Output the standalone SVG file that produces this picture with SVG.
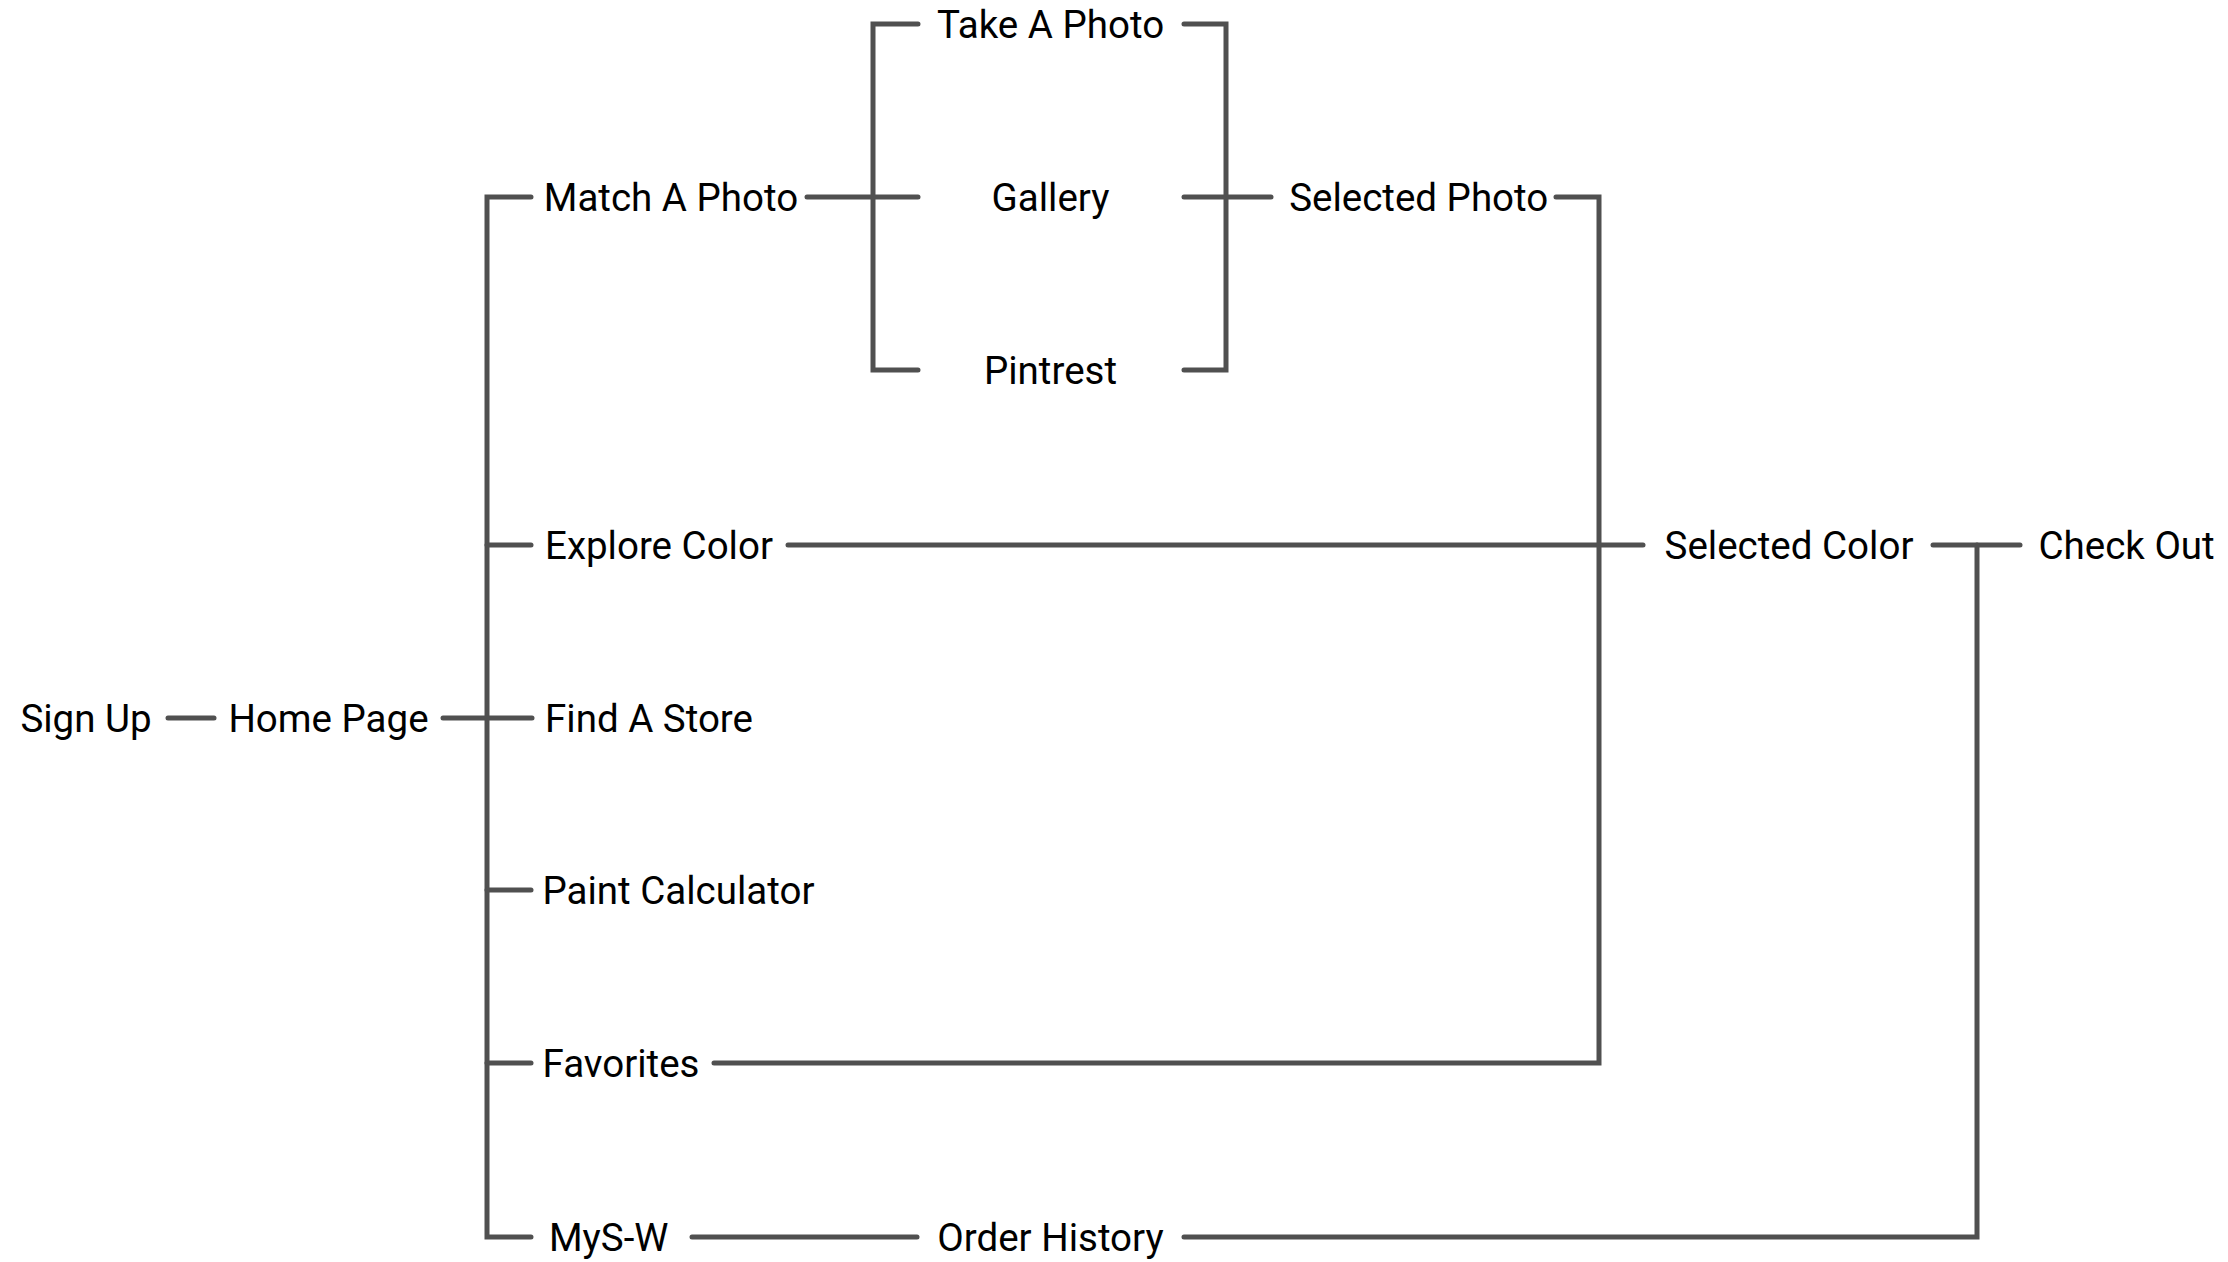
<svg xmlns="http://www.w3.org/2000/svg" width="2228" height="1262" viewBox="0 0 2228 1262">
<style>
  .c { fill: none; stroke: #505050; stroke-width: 5; stroke-linecap: round; stroke-linejoin: miter; }
  .t { font-family: Roboto, "Noto Sans", "Liberation Sans", sans-serif; font-size: 38.5px; fill: #000; text-anchor: middle; }
</style>
<rect width="2228" height="1262" fill="#fff"/>
<g id="connectors">
  <path class="c" d="M168 718 H214"/>
  <path class="c" d="M443 718 H532"/>
  <path class="c" d="M531 197 H487 V1237 H531"/>
  <path class="c" d="M487 545 H531"/>
  <path class="c" d="M487 890 H531"/>
  <path class="c" d="M487 1063 H531"/>
  <path class="c" d="M807 197 H918"/>
  <path class="c" d="M918 24 H873 V370 H918"/>
  <path class="c" d="M1184 24 H1226 V370 H1184"/>
  <path class="c" d="M1184 197 H1271"/>
  <path class="c" d="M1556 197 H1599 V1063 H714"/>
  <path class="c" d="M788 545 H1643"/>
  <path class="c" d="M1933 545 H2020"/>
  <path class="c" d="M692 1237 H917"/>
  <path class="c" d="M1184 1237 H1977 V545"/>
</g>
<g id="sign-up"><text class="t" x="86" y="732">Sign Up</text></g>
<g id="home-page"><text class="t" x="328.5" y="732">Home Page</text></g>
<g id="match-a-photo"><text class="t" x="671" y="211">Match A Photo</text></g>
<g id="take-a-photo"><text class="t" x="1050.5" y="38">Take A Photo</text></g>
<g id="gallery"><text class="t" x="1050.5" y="211">Gallery</text></g>
<g id="pintrest"><text class="t" x="1050.5" y="384">Pintrest</text></g>
<g id="selected-photo"><text class="t" x="1418.7" y="211">Selected Photo</text></g>
<g id="explore-color"><text class="t" x="659" y="559">Explore Color</text></g>
<g id="find-a-store"><text class="t" x="649" y="732">Find A Store</text></g>
<g id="paint-calculator"><text class="t" x="678.5" y="904">Paint Calculator</text></g>
<g id="favorites"><text class="t" x="621" y="1077">Favorites</text></g>
<g id="mys-w"><text class="t" x="608.7" y="1251">MyS-W</text></g>
<g id="order-history"><text class="t" x="1050.5" y="1251">Order History</text></g>
<g id="selected-color"><text class="t" x="1789" y="559">Selected Color</text></g>
<g id="check-out"><text class="t" x="2126.6" y="559">Check Out</text></g>
</svg>
